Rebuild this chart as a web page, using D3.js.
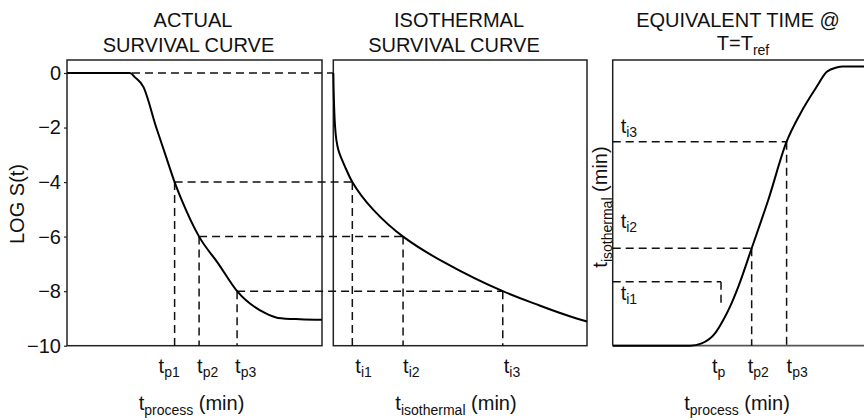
<!DOCTYPE html>
<html>
<head>
<meta charset="utf-8">
<script src="https://cdn.jsdelivr.net/npm/d3@7"></script>
<style>
  body { margin: 0; background: #fff; }
  svg { display: block; font-family: "Liberation Sans", Arial, Helvetica, sans-serif; }
  text { fill: #111; }
</style>
</head>
<body>
<div id="graphicContainer"></div>
<script>
// actual survival curve (log S vs process time, arbitrary units 0-10)
var actualT    = [0, 2.47, 2.67, 2.99, 3.50, 3.86, 4.22, 4.5, 5.18, 5.92, 6.67, 7.76, 8.27, 9.14, 10]
var actualLogS = [0, 0, -0.16, -0.5, -2.0, -3.0, -4, -4.66, -6, -6.97, -8, -8.8, -8.98, -9.03, -9.05]

// isothermal survival curve
var isoT    = [0, 0.07, 0.2, 0.46, 0.75, 1.58, 2.75, 4.34, 6.68, 7.88, 9.59, 10]
var isoLogS = [0, -1.97, -2.82, -3.43, -4, -5.02, -6, -6.93, -8, -8.44, -9.0, -9.11]

// equivalent time curve (t isothermal vs t process)
var procT  = [0, 3.08, 3.54, 4.07, 4.40, 4.67, 5.00, 5.53, 6.19, 6.92, 7.47, 8.12, 8.52, 8.91, 9.16, 10]
var isoEqT = [0, 0, 0.08, 0.43, 0.90, 1.37, 2.07, 3.41, 5.10, 7.14, 8.13, 9.07, 9.59, 9.74, 9.77, 9.77]

// reference levels
var levels   = [-4, -6, -8]
var tpTimes  = [4.22, 5.18, 6.67]
var tiTimes  = [0.75, 2.75, 6.68]
var tpLabels = ["p1", "p2", "p3"]
var tiLabels = ["i1", "i2", "i3"]

var eqProc   = [4.31, 5.53, 6.92]
var eqIso    = [2.24, 3.41, 7.14]
var eqDrop   = 1.49
var eqLabels = ["p", "p2", "p3"]

var yTicks = [0, -2, -4, -6, -8, -10]

var width = 864, height = 420
var plotTop = 60, plotBottom = 345.7

var svg = d3.select("#graphicContainer").append("svg")
	.attr("width", width)
	.attr("height", height)

var y = d3.scaleLinear().domain([0, -10]).range([73, plotBottom])
var x1 = d3.scaleLinear().domain([0, 10]).range([67, 322])
var x2 = d3.scaleLinear().domain([0, 10]).range([333.3, 587])
var x3 = d3.scaleLinear().domain([0, 10]).range([612.7, 864])
var y3 = d3.scaleLinear().domain([0, 10]).range([plotBottom, plotTop])

var frameColor = "#222"
var dash = "8,5"

function sub(g, main, s, subSize, drop) {
	g.append("tspan").text(main)
	g.append("tspan").attr("font-size", subSize).attr("dy", drop).text(s)
}

// frames
svg.append("rect").attr("x", x1(0)).attr("y", plotTop)
	.attr("width", x1(10) - x1(0)).attr("height", plotBottom - plotTop)
	.attr("fill", "none").attr("stroke", frameColor).attr("stroke-width", 1.5)
svg.append("rect").attr("x", x2(0)).attr("y", plotTop)
	.attr("width", x2(10) - x2(0)).attr("height", plotBottom - plotTop)
	.attr("fill", "none").attr("stroke", frameColor).attr("stroke-width", 1.5)
svg.append("path")
	.attr("d", `M${x3(10)},${plotTop}H${x3(0)}V${plotBottom}`)
	.attr("fill", "none").attr("stroke", "#222").attr("stroke-width", 1.5)
svg.append("path")
	.attr("d", `M${x3(0)},${plotBottom}H${x3(10)}`)
	.attr("fill", "none").attr("stroke", "#555").attr("stroke-width", 1.8)

// y axis panel 1
var yAxis = svg.append("g")
	.attr("transform", `translate(${x1(0)},0)`)
	.call(d3.axisLeft(y).tickValues(yTicks).tickSize(3).tickPadding(3))
yAxis.select(".domain").remove()
yAxis.selectAll("line").attr("stroke", frameColor).attr("stroke-width", 1.2)
yAxis.selectAll("text").attr("font-size", 20).attr("font-family", null).attr("fill", "#111")

// dashed lines: level 0 and the three levels, from panel 1 to panel 2
var dashes = svg.append("g")
	.attr("fill", "none").attr("stroke", "#111").attr("stroke-width", 1.5)
	.attr("stroke-dasharray", dash)

dashes.append("line")
	.attr("x1", x1(0)).attr("x2", x2(0))
	.attr("y1", y(0)).attr("y2", y(0))

levels.forEach((lv, i) => {
	dashes.append("line")
		.attr("x1", x1(tpTimes[i])).attr("x2", x2(tiTimes[i]))
		.attr("y1", y(lv)).attr("y2", y(lv))
	dashes.append("line")
		.attr("x1", x1(tpTimes[i])).attr("x2", x1(tpTimes[i]))
		.attr("y1", y(lv)).attr("y2", plotBottom)
	dashes.append("line")
		.attr("x1", x2(tiTimes[i])).attr("x2", x2(tiTimes[i]))
		.attr("y1", y(lv)).attr("y2", plotBottom)
})

// panel 3 dashed
eqIso.forEach((lv, i) => {
	dashes.append("line")
		.attr("x1", x3(0)).attr("x2", x3(eqProc[i]))
		.attr("y1", y3(lv)).attr("y2", y3(lv))
	dashes.append("line")
		.attr("x1", x3(eqProc[i])).attr("x2", x3(eqProc[i]))
		.attr("y1", y3(lv)).attr("y2", i === 0 ? y3(eqDrop) : plotBottom)
})

// curves
var line1 = d3.line().curve(d3.curveMonotoneX)
	.x(i => x1(actualT[i])).y(i => y(actualLogS[i]))
var line2 = d3.line().curve(d3.curveMonotoneY)
	.x(i => x2(isoT[i])).y(i => y(isoLogS[i]))
var line3 = d3.line().curve(d3.curveMonotoneX)
	.x(i => x3(procT[i])).y(i => y3(isoEqT[i]))

svg.append("path").attr("d", line1(d3.range(actualT.length)))
	.attr("fill", "none").attr("stroke", "#000").attr("stroke-width", 2)
svg.append("path").attr("d", line2(d3.range(isoT.length)))
	.attr("fill", "none").attr("stroke", "#000").attr("stroke-width", 2)
svg.append("path").attr("d", line3(d3.range(procT.length)))
	.attr("fill", "none").attr("stroke", "#000").attr("stroke-width", 2)

// tick labels under the dashed verticals
var tpDx = [-16, -2, -2]
var tiDx = [3, 0, 1]
var eqDx = [-9, -4, 0]
tpTimes.forEach((t, i) => {
	var tx = svg.append("text").attr("x", x1(t) + tpDx[i]).attr("y", 373).attr("font-size", 20)
	sub(tx, "t", tpLabels[i], 14, 4)
})
tiTimes.forEach((t, i) => {
	var tx = svg.append("text").attr("x", x2(t) + tiDx[i]).attr("y", 373).attr("font-size", 20)
	sub(tx, "t", tiLabels[i], 14, 4)
})
eqProc.forEach((t, i) => {
	var tx = svg.append("text").attr("x", x3(t) + eqDx[i]).attr("y", 373).attr("font-size", 20)
	sub(tx, "t", eqLabels[i], 14, 4)
})

// t_i labels inside panel 3
var eqLabelDy = [18, -20, -9]
eqIso.forEach((lv, i) => {
	var tx = svg.append("text").attr("x", x3(0) + 8).attr("y", y3(lv) + eqLabelDy[i]).attr("font-size", 20)
	sub(tx, "t", tiLabels[i], 14, 4)
})

// axis titles
function xTitle(cx, s) {
	var tx = svg.append("text").attr("x", cx).attr("y", 410)
		.attr("text-anchor", "middle").attr("font-size", 20)
	tx.append("tspan").text("t")
	tx.append("tspan").attr("font-size", 14).attr("dy", 5).text(s)
	tx.append("tspan").attr("dy", -5).text(" (min)")
}
xTitle(191.5, "process")
xTitle(456, "isothermal")
xTitle(737, "process")

svg.append("text")
	.attr("transform", "translate(24,204) rotate(-90)")
	.attr("text-anchor", "middle").attr("font-size", 20)
	.text("LOG S(t)")

var yt3 = svg.append("text")
	.attr("transform", "translate(607,207) rotate(-90)")
	.attr("text-anchor", "middle").attr("font-size", 20)
yt3.append("tspan").text("t")
yt3.append("tspan").attr("font-size", 14).attr("dy", 5).text("isothermal")
yt3.append("tspan").attr("dy", -5).text(" (min)")

// panel titles
function title(cx, yy, s) {
	svg.append("text").attr("x", cx).attr("y", yy)
		.attr("text-anchor", "middle").attr("font-size", 20).text(s)
}
title(193, 27, "ACTUAL")
title(188.5, 52, "SURVIVAL CURVE")
title(459, 27, "ISOTHERMAL")
title(454, 52, "SURVIVAL CURVE")
title(738, 27, "EQUIVALENT TIME @")

var tref = svg.append("text").attr("x", 743).attr("y", 50)
	.attr("text-anchor", "middle").attr("font-size", 20)
tref.append("tspan").text("T=T")
tref.append("tspan").attr("font-size", 14).attr("dy", 5).text("ref")
</script>
</body>
</html>
